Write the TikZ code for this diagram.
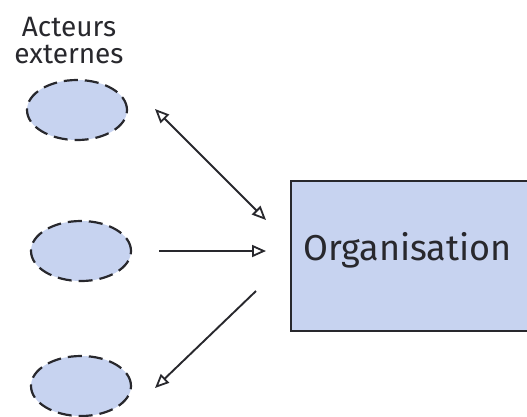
\documentclass[tikz,border=0pt]{standalone}
\usepackage{fontspec}
\setmainfont{Fira Sans}
\usetikzlibrary{arrows.meta,shapes.geometric}
\definecolor{actfill}{RGB}{199,211,240}
\definecolor{linegray}{RGB}{40,40,45}
\tikzset{
  actor/.style={ellipse, draw=linegray, line width=2.2pt, dash pattern=on 14pt off 7pt,
    fill=actfill, minimum width=100pt, minimum height=60pt, inner sep=0pt},
  orgbox/.style={draw=linegray, line width=2.2pt, fill=actfill},
  tip/.tip={Triangle[open, length=14pt, width=12pt, line width=1.8pt]},
  flow/.style={draw=linegray, line width=1.9pt, -tip},
  flowboth/.style={draw=linegray, line width=1.9pt, tip-tip}
}
\begin{document}
\begin{tikzpicture}[x=1pt, y=-1pt]
\useasboundingbox (0,0) rectangle (527,416);
\clip (0,0) rectangle (527,416);
% organisation box, running off the right side
\draw[orgbox] (291,181) rectangle (540,331);
\node[anchor=west, inner sep=0pt, font=\fontsize{36}{36}\selectfont, text=linegray] (org) at (303,250) {Organisation};
% external actors
\node[align=center, inner sep=0pt, font=\fontsize{28}{27}\selectfont, text=linegray] (lbl) at (69,41) {Acteurs\\externes};
\node[actor] (a1) at (77,110) {};
\node[actor] (a2) at (81,251) {};
\node[actor] (a3) at (81,386) {};
% connector end points near the box
\coordinate (p1) at (155,109);
\coordinate (q1) at (266,220);
\coordinate (p2) at (159,251);
\coordinate (q2) at (266,251);
\coordinate (p3) at (256,291);
\coordinate (q3) at (155,388);
\draw[flowboth] (p1) -- (q1);
\draw[flow] (p2) -- (q2);
\draw[flow] (p3) -- (q3);
\end{tikzpicture}
\end{document}
